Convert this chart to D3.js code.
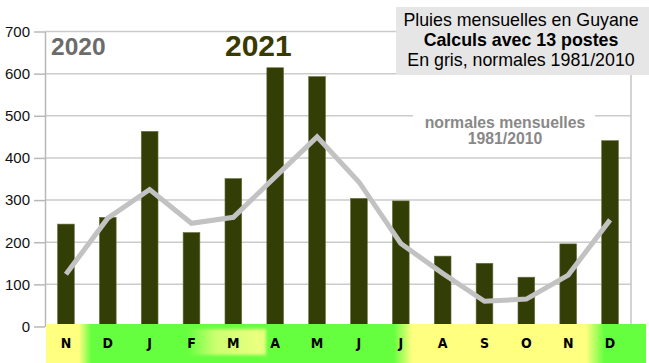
<!DOCTYPE html>
<html>
<head>
<meta charset="utf-8">
<script src="https://cdn.jsdelivr.net/npm/d3@7"></script>
<style>
  body { margin: 0; background: #fff; }
  svg { display: block; font-family: "Liberation Sans", Arial, sans-serif; }
</style>
</head>
<body>
<div id="chart"></div>
<script>
// Monthly rainfall, Nov 2020 -> Dec 2021
const months = ["2020-11", "2020-12", "2021-01", "2021-02", "2021-03", "2021-04", "2021-05",
                "2021-06", "2021-07", "2021-08", "2021-09", "2021-10", "2021-11", "2021-12"];
const monthLabels = ["N", "D", "J", "F", "M", "A", "M", "J", "J", "A", "S", "O", "N", "D"];
const rain = [243, 259, 463, 223, 351, 614, 593, 304, 298, 167, 150, 117, 196, 441];
const normals = [124, 257, 325, 245, 259, 355, 450, 343, 197, 126, 60, 65, 122, 253];
const yTicks = [0, 100, 200, 300, 400, 500, 600, 700];
const legendLines = ["Pluies mensuelles en Guyane", "Calculs avec 13 postes", "En gris, normales 1981/2010"];

const width = 649;
const height = 363;
const marginLeft = 45;
const marginRight = 18;
const plotTop = 31.5;
const plotBottom = 326.5;

const svg = d3.select("#chart")
    .append("svg")
    .attr("width", width)
    .attr("height", height)
    .attr("viewBox", [0, 0, width, height]);

const x = d3.scaleBand()
    .domain(months)
    .range([marginLeft, width - marginRight])
    .paddingInner(0.6)
    .paddingOuter(0.3);

const y = d3.scaleLinear()
    .domain([0, 700])
    .range([plotBottom, plotTop]);

const cx = (d, i) => x(months[i]) + x.bandwidth() / 2;

// gridlines
svg.append("g")
    .selectAll("line")
    .data(yTicks.slice(1))
    .join("line")
    .attr("x1", marginLeft)
    .attr("x2", width - marginRight)
    .attr("y1", d => y(d))
    .attr("y2", d => y(d))
    .attr("stroke", "#cbcbcb")
    .attr("stroke-width", 1.5);

// right border
svg.append("line")
    .attr("x1", width - marginRight).attr("x2", width - marginRight)
    .attr("y1", plotTop).attr("y2", plotBottom)
    .attr("stroke", "#c4c4c4")
    .attr("stroke-width", 1.5);

// y axis
const yAxis = svg.append("g")
    .attr("transform", `translate(${marginLeft},0)`)
    .call(d3.axisLeft(y).tickValues(yTicks).tickSize(11).tickPadding(4).tickSizeOuter(0));
yAxis.select(".domain").attr("stroke", "#b8b8b8").attr("stroke-width", 1.5);
yAxis.selectAll(".tick line").attr("stroke", "#b8b8b8").attr("stroke-width", 1.5);
yAxis.selectAll(".tick text")
    .attr("fill", "#111")
    .attr("font-size", 15)
    .attr("font-family", "Liberation Sans, Arial, sans-serif");

// bars
svg.append("g")
    .selectAll("rect")
    .data(rain)
    .join("rect")
    .attr("x", (d, i) => x(months[i]))
    .attr("y", d => y(d))
    .attr("width", x.bandwidth())
    .attr("height", d => y(0) - y(d))
    .attr("fill", "#333d06")
    .attr("stroke", "#6a7040")
    .attr("stroke-width", 0.6);

// normals line
svg.append("path")
    .datum(normals)
    .attr("fill", "none")
    .attr("stroke", "#c2c2c2")
    .attr("stroke-width", 5)
    .attr("d", d3.line().x(cx).y(d => y(d)));

// month band with season colours
const defs = svg.append("defs");
const bandX0 = 46, bandX1 = 646;
const grad = defs.append("linearGradient")
    .attr("id", "season")
    .attr("gradientUnits", "userSpaceOnUse")
    .attr("x1", bandX0).attr("x2", bandX1)
    .attr("y1", 0).attr("y2", 0);
const yellow = "#ffff80", green = "#66ff40";
[[0, yellow], [0.055, yellow], [0.075, green], [0.58, green], [0.61, yellow],
 [0.9, yellow], [0.93, green], [1, green]].forEach(([o, c]) => {
    grad.append("stop").attr("offset", o).attr("stop-color", c);
});
const grad2 = defs.append("linearGradient").attr("id", "patch");
grad2.append("stop").attr("offset", 0).attr("stop-color", green);
grad2.append("stop").attr("offset", 0.35).attr("stop-color", "#ccff70");
grad2.append("stop").attr("offset", 0.9).attr("stop-color", "#eaff80");
grad2.append("stop").attr("offset", 1).attr("stop-color", "#e4ff7c");
defs.append("filter").attr("id", "soft")
    .attr("x", "-20%").attr("y", "-50%").attr("width", "140%").attr("height", "200%")
    .append("feGaussianBlur").attr("stdDeviation", 1.8);

svg.append("rect")
    .attr("x", bandX0).attr("y", 324)
    .attr("width", bandX1 - bandX0).attr("height", height - 324)
    .attr("fill", "url(#season)");
svg.append("rect")
    .attr("x", 188).attr("y", 329)
    .attr("width", 78).attr("height", 26)
    .attr("fill", "url(#patch)")
    .attr("filter", "url(#soft)");

svg.append("g")
    .selectAll("text")
    .data(monthLabels)
    .join("text")
    .attr("x", cx)
    .attr("y", 348)
    .attr("text-anchor", "middle")
    .attr("font-family", "DejaVu Sans Condensed, DejaVu Sans, sans-serif")
    .attr("font-stretch", "condensed")
    .attr("font-weight", "bold")
    .attr("font-size", 14)
    .attr("fill", "#000")
    .text(d => d);

// year labels
svg.append("text")
    .attr("x", 51).attr("y", 55)
    .attr("font-size", 24.5).attr("font-weight", "bold")
    .attr("fill", "#6b6b6b")
    .text("2020");
svg.append("text")
    .attr("x", 225).attr("y", 56)
    .attr("font-size", 30).attr("font-weight", "bold")
    .attr("fill", "#3a3a00")
    .text("2021");

// normals label
svg.append("rect")
    .attr("x", 413).attr("y", 110)
    .attr("width", 182).attr("height", 12)
    .attr("fill", "#fff");
svg.append("text")
    .attr("text-anchor", "middle")
    .attr("font-size", 15.8).attr("font-weight", "bold")
    .attr("fill", "#888888")
    .selectAll("tspan")
    .data(["normales mensuelles", "1981/2010"])
    .join("tspan")
    .attr("x", 505)
    .attr("y", (d, i) => 128 + i * 15.5)
    .text(d => d);

// legend box
svg.append("rect")
    .attr("x", 396).attr("y", 7)
    .attr("width", width - 396).attr("height", 68)
    .attr("fill", "#e6e6e6");
svg.append("g")
    .selectAll("text")
    .data(legendLines)
    .join("text")
    .attr("x", 521)
    .attr("y", (d, i) => 25.5 + i * 20.2)
    .attr("text-anchor", "middle")
    .attr("font-size", 17.8)
    .attr("font-weight", (d, i) => i === 1 ? "bold" : "normal")
    .attr("fill", "#000")
    .text(d => d);
</script>
</body>
</html>
